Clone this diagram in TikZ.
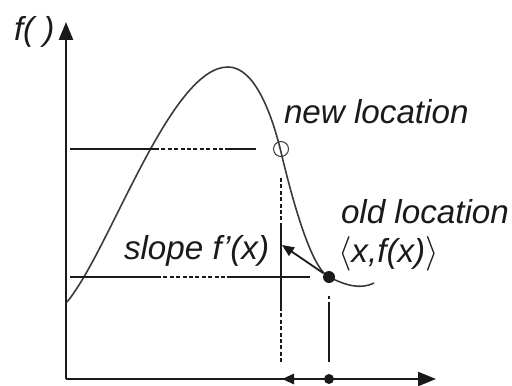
\documentclass[tikz,border=0pt]{standalone}
\usepackage{fontspec}
\setmainfont{Liberation Sans}
\usetikzlibrary{arrows.meta}
\definecolor{cink}{HTML}{1A1A1A}
\definecolor{ccurve}{HTML}{3A3A3A}
\tikzset{
  every picture/.style={line width=1pt},
  labeltext/.style={font=\fontsize{16.6}{20}\selectfont\itshape, text=cink, inner sep=0pt, anchor=base west},
  axis/.style={draw=cink, line width=1.2pt, -{Triangle[length=9pt, width=7pt]}},
  guide/.style={draw=cink, line width=0.8pt},
  guidedots/.style={guide, dash pattern=on 2pt off 1.2pt},
  curve/.style={draw=ccurve, line width=0.8pt},
  arrow/.style={draw=cink, line width=0.9pt, -{Triangle[length=6pt, width=5pt]}},
  dotnode/.style={circle, fill=cink, inner sep=0pt, minimum size=6pt},
  ringnode/.style={circle, draw=ccurve, line width=0.5pt, inner sep=0pt, minimum size=7.5pt},
}

\begin{document}
\begin{tikzpicture}[x=0.5pt, y=-0.5pt]
  \useasboundingbox (0,0) rectangle (512,385);
  % the function
  \draw[curve] (67,302) .. controls (110,250) and (170,67) .. (228,67)
    .. controls (255,67) and (272,115) .. (281,152)
    .. controls (290,190) and (310,268) .. (329,277)
    .. controls (345,285) and (360,290) .. (374,283);
  % helper lines
  \draw[guide] (70,149) -- (155,149) (228,149) -- (256,149);
  \draw[guidedots] (155,149) -- (228,149);
  \draw[guide] (70,277) -- (157,277) (228,277) -- (310,277);
  \draw[guidedots] (157,277) -- (228,277);
  \draw[guidedots] (281,178) -- (281,224);
  \draw[guide] (281,224) -- (281,307);
  \draw[guidedots] (281,307) -- (281,363);
  \draw[guide] (329,296) -- (329,299) (329,302) -- (329,362);
  % axes
  \coordinate (O) at (66,379);
  \coordinate (ytip) at (66,22);
  \coordinate (xtip) at (436,379);
  \draw[axis] (O) -- (ytip);
  \draw[axis] (O) -- (xtip);
  % points
  \node[ringnode] (new) at (281,149) {};
  \node[dotnode] (old) at (329,277) {};
  \coordinate (slopetip) at (282,245);
  \draw[arrow] (old) -- (slopetip);
  % step on the x axis
  \node[dotnode, minimum size=5pt] (xold) at (329,379) {};
  \coordinate (xnew) at (282,379);
  \draw[arrow, line width=1.4pt] (xold) -- (xnew);
  % labels
  \node[labeltext] (fname) at (13,40) {f(\ )};
  \node[labeltext] (newlab) at (283,123) {new location};
  \node[labeltext] (oldlab) at (340,223) {old location};
  \node[labeltext] (oldpt) at (337,262) {$\langle$x,f(x)$\rangle$};
  \node[labeltext] (slopelab) at (123,259) {slope f'(x)};
\end{tikzpicture}
\end{document}
